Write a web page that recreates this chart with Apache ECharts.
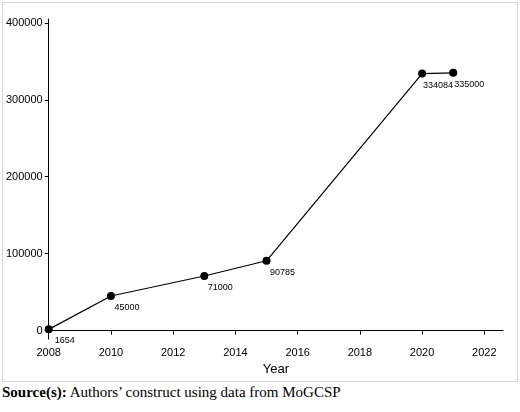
<!DOCTYPE html>
<html><head><meta charset="utf-8">
<script src="https://cdn.jsdelivr.net/npm/echarts@6/dist/echarts.min.js"></script>
<style>html,body{margin:0;padding:0;background:#fff}
#box{position:absolute;left:2px;top:2px;width:514px;height:378px;border:1px solid #d8d8d8;}
#c{width:514px;height:378px}
#src{position:absolute;left:2px;top:384px;font-family:"Liberation Serif",serif;font-size:15px;color:#000}
</style></head><body>
<div id="box"><div id="c"></div></div>
<div id="src"><b>Source(s):</b> Authors’ construct using data from MoGCSP</div>
<script>
const years=[2008,2010,2013,2015,2020,2021];
const values=[1654,45000,71000,90785,334084,335000];
const xTicks=[2008,2010,2012,2014,2016,2018,2020,2022];
const yTicks=[0,100000,200000,300000,400000];
const chart=echarts.init(document.getElementById('c'));
chart.setOption({
 animation:false,
 grid:{left:43,right:14,top:16,bottom:40},
 xAxis:{type:'value',min:2008,max:2022.6,name:'Year',nameLocation:'middle',nameGap:20,
  nameTextStyle:{fontFamily:'Liberation Sans',fontSize:13,color:'#000'},
  axisLine:{lineStyle:{color:'#000'}},axisTick:{customValues:xTicks,length:4,lineStyle:{color:'#000'}},
  axisLabel:{customValues:xTicks,color:'#000',fontFamily:'Liberation Sans',fontSize:11,formatter:v=>String(v)},splitLine:{show:false}},
 yAxis:{type:'value',min:-11000,max:405000,
  axisLine:{show:true,lineStyle:{color:'#000'}},axisTick:{show:true,customValues:yTicks,length:4,lineStyle:{color:'#000'}},
  axisLabel:{customValues:yTicks,color:'#000',fontFamily:'Liberation Sans',fontSize:11,margin:6,formatter:v=>String(v)},splitLine:{show:false}},
 series:[{type:'line',data:years.map((y,i)=>[y,values[i]]),symbol:'circle',symbolSize:8,
  itemStyle:{color:'#000'},lineStyle:{color:'#000',width:1.2},
  label:{show:true,position:'bottom',offset:[16,-2],color:'#000',fontFamily:'Liberation Sans',fontSize:9,
   formatter:p=>String(values[p.dataIndex])}}]
});
</script></body></html>
